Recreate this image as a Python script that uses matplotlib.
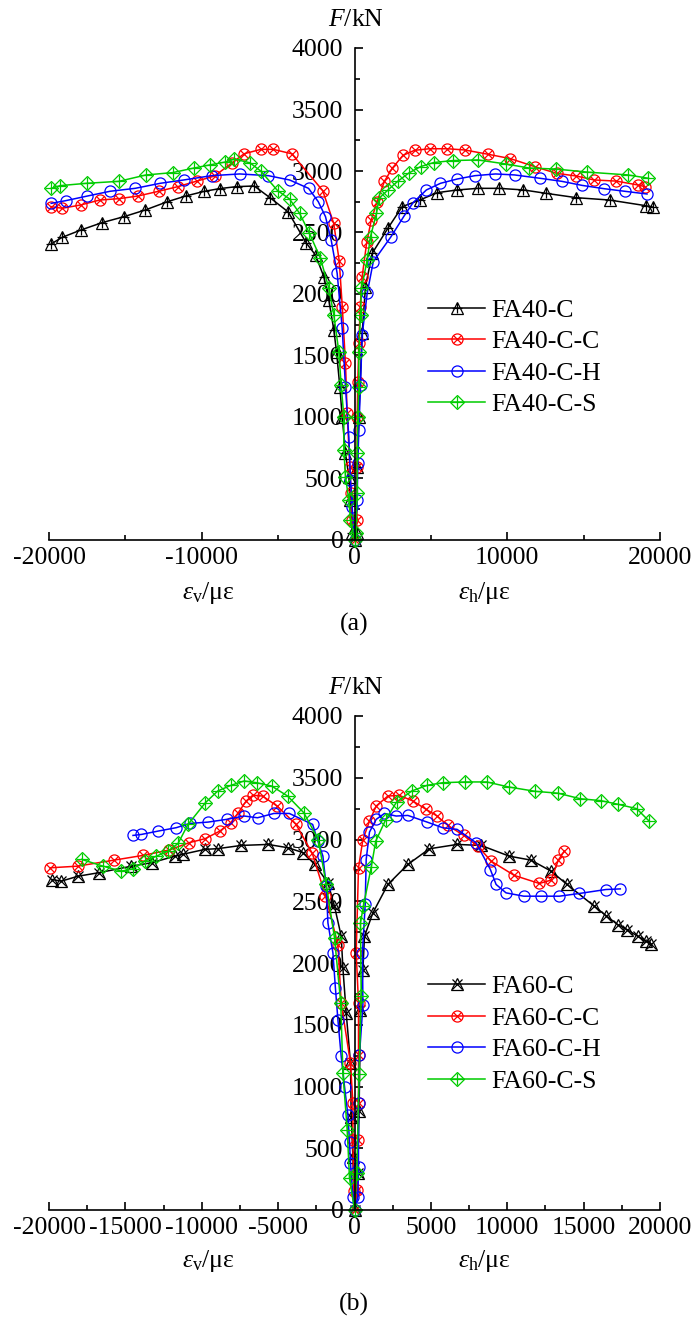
import matplotlib
matplotlib.use("Agg")
import matplotlib.pyplot as plt
from matplotlib.ticker import MultipleLocator
from matplotlib.legend_handler import HandlerTuple

plt.rcParams['font.family'] = ['Liberation Serif', 'DejaVu Serif']
plt.rcParams['mathtext.fontset'] = 'custom'
plt.rcParams['mathtext.rm'] = 'Liberation Serif'
plt.rcParams['mathtext.it'] = 'Liberation Serif:italic'
plt.rcParams['axes.unicode_minus'] = False

# ---- panel (a): FA40 series, strain (με) vs load F (kN) ----
fa40_c_x = [-19860, -19130, -17920, -16530, -15085, -13700, -12255, -11045, -9826, -8818,
            -7719, -6566, -5500, -4340, -3143, -2553, -2008, -1680, -1353, -1178, -960,
            -806, -590, -373, -262, -131, 0,
            131, 175, 284, 502, 720, 1159, 2183, 3120, 4270, 5427, 6730, 8085, 9470,
            11060, 12505, 14530, 16695, 19065, 19510]
fa40_c_f = [2407, 2461, 2520, 2580, 2629, 2683, 2750, 2797, 2835, 2857,
            2873, 2878, 2780, 2667, 2412, 2317, 2141, 1951, 1707, 1531, 1246,
            1002, 705, 515, 325, 54, 0,
            54, 596, 1002, 1680, 2060, 2331, 2534, 2710, 2764, 2824, 2846, 2859, 2859,
            2846, 2819, 2783, 2764, 2718, 2707]

fa40_cc_x = [-19857, -19130, -17920, -16680, -15430, -14160, -12830, -11560, -10320, -9165,
             -8010, -7230, -6130, -5320, -4105, -2083, -1362, -1000, -800, -590, -480,
             -306, -218, -153, 0,
             131, 175, 175, 218, 284, 373, 502, 800, 1100, 1460, 1958, 2480, 3175, 3928,
             4910, 6063, 7220, 8746, 10194, 11785, 13225, 14530, 15690, 17130, 18573, 19000]
fa40_cc_f = [2710, 2697, 2724, 2764, 2775, 2797, 2835, 2873, 2918, 2959,
             3067, 3140, 3176, 3176, 3140, 2841, 2575, 2270, 1897, 1436, 1030,
             596, 380, 163, 0,
             163, 596, 1002, 1287, 1599, 1897, 2141, 2420, 2602, 2745, 2916, 3024, 3127, 3168,
             3181, 3181, 3171, 3136, 3101, 3036, 2981, 2959, 2927, 2918, 2886, 2873]

fa40_ch_x = [-19857, -18900, -17545, -16010, -14360, -12717, -11185, -9360, -7515, -5636,
             -4250, -3010, -2375, -1899, -1527, -1135, -806, -590, -371, -262, -153, 0,
             175, 218, 284, 393, 502, 830, 1230, 2380, 3250, 3837, 4707, 5630, 6730,
             7883, 9230, 10480, 12132, 13570, 14900, 16350, 17700, 19150]
fa40_ch_f = [2737, 2759, 2795, 2835, 2859, 2900, 2927, 2962, 2976, 2962,
             2927, 2859, 2751, 2629, 2439, 2168, 1721, 1246, 835, 488, 271, 0,
             325, 624, 894, 1260, 1667, 2006, 2263, 2464, 2635, 2743, 2846, 2900, 2935,
             2962, 2976, 2968, 2941, 2916, 2883, 2856, 2835, 2813]

fa40_cs_x = [-19857, -19275, -17545, -15430, -13640, -11900, -10520, -9454, -8500, -7864,
             -6853, -6130, -5040, -4255, -3590, -2950, -2226, -1680, -1353, -1026, -873,
             -698, -698, -590, -371, -262, 0,
             72, 175, 175, 218, 284, 284, 393, 458, 830, 1048, 1440, 1610, 2193, 2828,
             3550, 4330, 5200, 6437, 8085, 9906, 11437, 13170, 15250, 17900, 19240]
fa40_cs_f = [2859, 2881, 2900, 2916, 2968, 2987, 3024, 3050, 3072, 3097,
             3067, 2999, 2841, 2773, 2655, 2493, 2290, 2046, 1829, 1531, 1260,
             1002, 732, 515, 325, 163, 0,
             54, 379, 705, 1002, 1246, 1531, 1829, 2046, 2277, 2467, 2656, 2778, 2846, 2916,
             2983, 3036, 3069, 3085, 3090, 3057, 3024, 3016, 2991, 2968, 2941]

# ---- panel (b): FA60 series ----
fa60_c_x = [-19820, -19190, -18090, -16740, -14600, -13280, -11750, -11260, -9790, -8950,
            -7410, -5660, -4340, -3360, -2600, -1740, -1310, -870, -760, -543, -262,
            -216, -105, 0,
            200, 300, 390, 550, 654, 1203, 2184, 3492, 4906, 6717, 8286, 10137, 11556,
            12864, 13910, 15700, 16460, 17226, 17835, 18535, 19080, 19400]
fa60_c_f = [2676, 2663, 2703, 2731, 2784, 2812, 2865, 2880, 2920, 2926,
            2952, 2960, 2933, 2893, 2798, 2649, 2460, 2217, 1960, 1595, 1190,
            757, 432, 0,
            300, 800, 1620, 1946, 2217, 2406, 2636, 2798, 2925, 2960, 2952, 2865, 2833,
            2744, 2636, 2460, 2384, 2311, 2271, 2217, 2176, 2157]

fa60_cc_x = [-19920, -18130, -15740, -13860, -12130, -10830, -9770, -8820, -8100, -7610,
             -7090, -6660, -6020, -5070, -3830, -2760, -1900, -1086, -870, -262, -105,
             -105, -50, 0,
             170, 222, 262, 262, 262, 111, 262, 550, 981, 1420, 2184, 2943, 3820, 4690,
             5410, 6110, 7154, 8070, 8940, 10464, 12100, 12864, 13342, 13734]
fa60_cc_f = [2771, 2784, 2833, 2871, 2915, 2974, 3007, 3068, 3136, 3217,
             3312, 3358, 3352, 3271, 3122, 2887, 2545, 2149, 1676, 1190, 865,
             568, 150, 0,
             162, 568, 865, 1257, 1676, 2082, 2771, 3000, 3149, 3271, 3352, 3357, 3312, 3244,
             3190, 3114, 3033, 2947, 2825, 2709, 2644, 2671, 2833, 2906]

fa60_ch_x = [-14500, -13950, -12860, -11660, -10790, -9590, -8370, -7220, -6350, -5280,
             -4270, -2740, -2400, -2070, -1850, -1740, -1413, -1250, -1086, -870, -654,
             -432, -327, -262, -105, 0,
             222, 262, 262, 327, 550, 520, 700, 765, 981, 1420, 1962, 2727, 3492, 4755,
             5780, 6717, 7960, 8895, 9270, 9920, 11080, 12210, 13410, 14720, 16460, 17400]
fa60_ch_f = [3033, 3041, 3068, 3096, 3130, 3141, 3163, 3190, 3176, 3211,
             3211, 3122, 2987, 2866, 2622, 2325, 2082, 1798, 1541, 1243, 1000,
             770, 554, 379, 108, 0,
             108, 351, 865, 1257, 1662, 2082, 2474, 2838, 3060, 3163, 3211, 3190, 3195, 3141,
             3095, 3082, 2974, 2757, 2636, 2568, 2541, 2541, 2541, 2563, 2595, 2600]

fa60_cs_x = [-17870, -16460, -15260, -14490, -13730, -12970, -12200, -11550, -10900, -9760,
             -8950, -8080, -7220, -6410, -5430, -4380, -3320, -2370, -1850, -1308, -900,
             -759, -477, -327, 0,
             150, 300, 438, 392, 580, 1100, 1390, 2030, 2750, 3750, 4770, 5780, 7220, 8660,
             10100, 11840, 13320, 14780, 16110, 17260, 18470, 19280]
fa60_cs_f = [2839, 2784, 2744, 2763, 2825, 2865, 2906, 2968, 3122, 3298,
             3393, 3439, 3474, 3460, 3433, 3352, 3217, 3000, 2636, 2203, 1676,
             1109, 649, 257, 0,
             300, 1100, 1730, 2325, 2460, 2779, 2987, 3157, 3303, 3393, 3439, 3460, 3466, 3466,
             3425, 3390, 3375, 3330, 3315, 3285, 3250, 3150]

labels_a = ['FA40-C', 'FA40-C-C', 'FA40-C-H', 'FA40-C-S']
labels_b = ['FA60-C', 'FA60-C-C', 'FA60-C-H', 'FA60-C-S']

GREEN = '#00cc00'


def draw(ax, x, y, color, m1, m2, ms1, ms2):
    ln, = ax.plot(x, y, color=color, lw=1.1, marker=m1, ms=ms1, mfc='none',
                  mec=color, mew=0.9, clip_on=False)
    parts = [ln]
    if m2 is not None:
        ov, = ax.plot(x, y, ls='none', marker=m2, ms=ms2, mec=color, mew=0.9,
                      clip_on=False)
        parts.append(ov)
    return tuple(parts)


def style_axes(ax, xmajor, xminor):
    ax.set_xlim(-20000, 20000)
    ax.set_ylim(0, 4000)
    ax.spines['left'].set_position(('data', 0))
    ax.spines['right'].set_visible(False)
    ax.spines['top'].set_visible(False)
    for s in ('left', 'bottom'):
        ax.spines[s].set_linewidth(1.2)
    ax.xaxis.set_major_locator(MultipleLocator(xmajor))
    ax.xaxis.set_minor_locator(MultipleLocator(xminor))
    ax.yaxis.set_major_locator(MultipleLocator(500))
    ax.yaxis.set_minor_locator(MultipleLocator(250))
    ax.tick_params(which='both', direction='in', width=1.2, labelsize=18.5)
    ax.tick_params(which='major', length=6)
    ax.tick_params(which='minor', length=3.5)
    ax.tick_params(axis='y', pad=8)
    ax.tick_params(axis='x', pad=5)


fig = plt.figure(figsize=(6.92, 13.21), dpi=100)
W, H = 692, 1321

ax1 = fig.add_axes([49 / W, 1 - 540 / H, 611 / W, 492 / H])
ax2 = fig.add_axes([49 / W, 1 - 1210 / H, 611 / W, 494 / H])

h1 = [draw(ax1, fa40_c_x, fa40_c_f, 'black', '^', '+', 8, 7),
      draw(ax1, fa40_cc_x, fa40_cc_f, 'red', 'o', 'x', 8, 6),
      draw(ax1, fa40_ch_x, fa40_ch_f, 'blue', 'o', None, 8, 0),
      draw(ax1, fa40_cs_x, fa40_cs_f, GREEN, 'D', '+', 7, 8)]
style_axes(ax1, 10000, 5000)

h2 = [draw(ax2, fa60_c_x, fa60_c_f, 'black', '^', 'x', 8, 7),
      draw(ax2, fa60_cc_x, fa60_cc_f, 'red', 'o', 'x', 8, 6),
      draw(ax2, fa60_ch_x, fa60_ch_f, 'blue', 'o', None, 8, 0),
      draw(ax2, fa60_cs_x, fa60_cs_f, GREEN, 'D', '+', 7, 8)]
style_axes(ax2, 5000, 2500)

for ax, hs, labs, top in ((ax1, h1, labels_a, 0.49), (ax2, h2, labels_b, 0.475)):
    ax.legend(hs, labs, handler_map={tuple: HandlerTuple(ndivide=1)},
              loc='upper left', bbox_to_anchor=(0.621, top), frameon=False,
              fontsize=18.5, handlelength=2.2, handletextpad=0.25,
              labelspacing=0.33, borderpad=0, borderaxespad=0)

# axis titles
for yc in (20, 688):
    fig.text(356 / W, 1 - yc / H, '$F$/kN', ha='center', va='center', fontsize=18.5)
for yc in (593, 1261):
    fig.text(208 / W, 1 - yc / H, r'$\varepsilon_{\mathrm{v}}$/με', ha='center',
             va='center', fontsize=18.5)
    fig.text(484 / W, 1 - yc / H, r'$\varepsilon_{\mathrm{h}}$/με', ha='center',
             va='center', fontsize=18.5)
fig.text(354 / W, 1 - 624 / H, '(a)', ha='center', va='center', fontsize=18.5)
fig.text(354 / W, 1 - 1304 / H, '(b)', ha='center', va='center', fontsize=18.5)

fig.savefig('out.png', dpi=100)
